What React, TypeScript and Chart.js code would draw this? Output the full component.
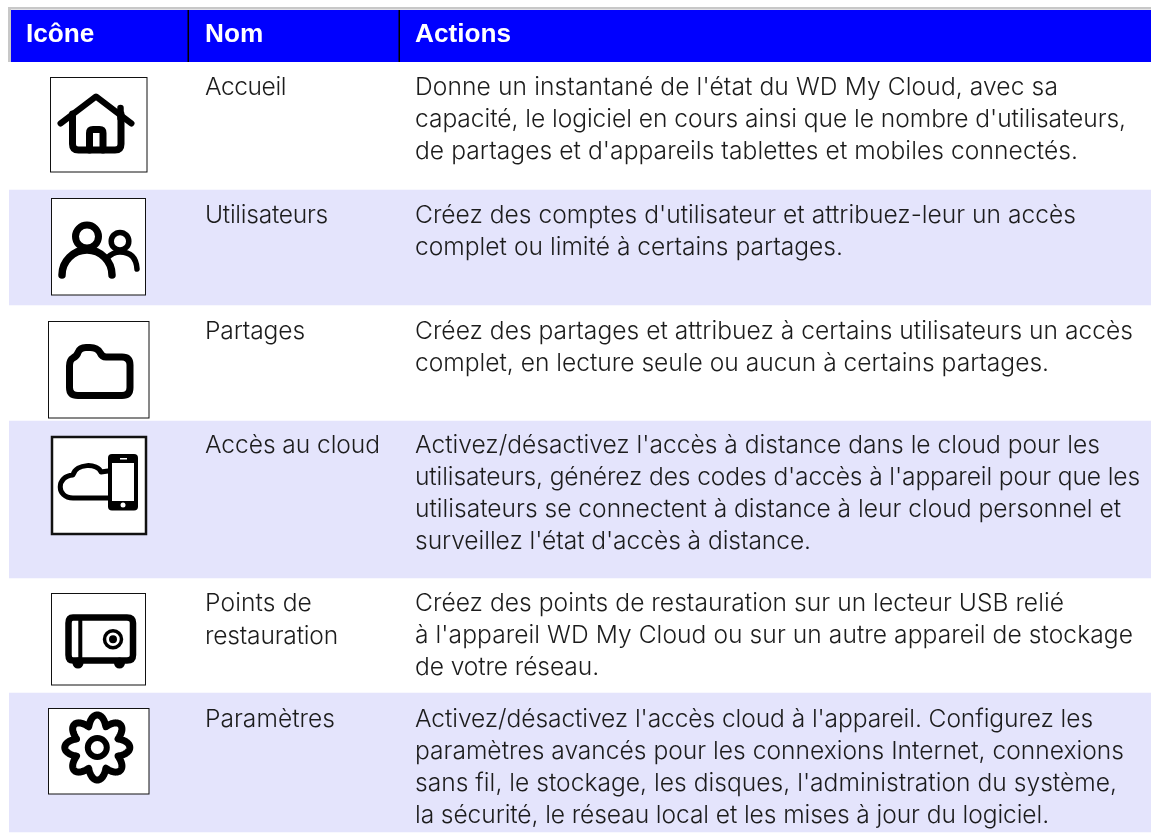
import React, { useEffect, useRef } from "react";
import { Chart, registerables } from "chart.js";
Chart.register(...registerables);

const W = 1151, H = 833;
const headers = ["Icône", "Nom", "Actions"];
const names = ["Accueil", "Utilisateurs", "Partages", "Accès au cloud", "Points de\nrestauration", "Paramètres"];
const nameEnds = [[286], [328], [305], [380], [312, 338], [335]];
const actions = [
  ["Donne un instantané de l'état du WD My Cloud, avec sa", "capacité, le logiciel en cours ainsi que le nombre d'utilisateurs,", "de partages et d'appareils tablettes et mobiles connectés."],
  ["Créez des comptes d'utilisateur et attribuez-leur un accès", "complet ou limité à certains partages."],
  ["Créez des partages et attribuez à certains utilisateurs un accès", "complet, en lecture seule ou aucun à certains partages."],
  ["Activez/désactivez l'accès à distance dans le cloud pour les", "utilisateurs, générez des codes d'accès à l'appareil pour que les", "utilisateurs se connectent à distance à leur cloud personnel et", "surveillez l'état d'accès à distance."],
  ["Créez des points de restauration sur un lecteur USB relié", "à l'appareil WD My Cloud ou sur un autre appareil de stockage", "de votre réseau."],
  ["Activez/désactivez l'accès cloud à l'appareil. Configurez les", "paramètres avancés pour les connexions Internet, connexions", "sans fil, le stockage, les disques, l'administration du système,", "la sécurité, le réseau local et les mises à jour du logiciel."],
];
const actionEnds = [[1058, 1126, 1078], [1076, 843], [1133, 1049], [1100, 1140, 1121, 811], [1064, 1133, 599], [1093, 1124, 1117, 1049]];
const rowBaselines = [95, 223, 339, 453, 611, 727];
const bandRanges = [[190, 305], [421, 578], [693, 832]];
const iconBoxes = [[50.5, 77.5, 96.5, 94.5, 1], [51.5, 198.5, 94, 96.5, 1], [48.5, 321.5, 100.5, 96.5, 1], [52, 437, 94, 97, 2.5], [51.5, 593.5, 94, 91.5, 1], [48.5, 708.5, 100.5, 85.5, 1]];

const P = (d: string) => new Path2D(d);

function gearPath(cx: number, cy: number) {
  const p = new Path2D();
  for (let i = 0; i <= 320; i++) {
    const a = (i / 320) * Math.PI * 2;
    const t = (1 + Math.cos(8 * a)) / 2;
    const r = 22.5 + 10 * Math.pow(t, 0.55);
    const x = cx + r * Math.cos(a + Math.PI / 2);
    const y = cy + r * Math.sin(a + Math.PI / 2);
    if (i === 0) p.moveTo(x, y);
    else p.lineTo(x, y);
  }
  p.closePath();
  return p;
}

function drawIcons(c: CanvasRenderingContext2D) {
  c.lineCap = "round";
  c.lineJoin = "round";
  c.strokeStyle = "#000";
  c.fillStyle = "#000";
  const s = (d: string | Path2D, w: number) => {
    c.lineWidth = w;
    c.stroke(typeof d === "string" ? P(d) : d);
  };
  // home
  s("M60.5 123.5 L96 96.5 L131.5 123.5", 6);
  s("M120.5 108 L120.5 118", 6.5);
  s("M72.5 114 L72.5 144 Q72.5 150 78.5 150 L115 150 Q121 150 121 144 L121 114", 7);
  s("M89.5 150 L89.5 133 Q89.5 129.5 93 129.5 L99.5 129.5 Q103 129.5 103 133 L103 150", 7);
  // users
  s("M87 248 A11.5 11.5 0 1 0 87 225 A11.5 11.5 0 1 0 87 248", 7);
  s("M62 275 A25 25 0 0 1 112 275", 7.5);
  s("M120 250 A8.8 8.8 0 1 0 120 232.4 A8.8 8.8 0 1 0 120 250", 5.5);
  s("M107 258 Q113 252 120 252 Q136 252 137 269", 5.5);
  // folder
  s("M78 395.5 L122 395.5 Q130 395.5 130 387.5 L130 365 Q130 357 122 357 L106 357 Q102 357 100 352.5 Q97 347.5 90 347.5 L86 347.5 Q80 347.5 78 352.5 Q77 356 73 358 Q69.5 360 69.5 366 L69.5 387.5 Q69.5 395.5 78 395.5 Z", 7);
  // cloud + phone
  s("M108 498 L73 498 C56 498 56 476 73 475 C76 463 98 463 101 472 L108 471", 5);
  c.beginPath();
  (c as any).roundRect(108, 454, 30, 56.5, 4);
  c.fill();
  c.fillStyle = "#fff";
  c.fillRect(112, 463, 22, 38);
  c.fillRect(120, 458, 7, 1.5);
  c.beginPath();
  c.arc(123, 505, 2.5, 0, Math.PI * 2);
  c.fill();
  c.fillStyle = "#000";
  // safe
  c.beginPath();
  c.arc(78, 663, 5.5, 0, Math.PI * 2);
  c.arc(119.5, 663, 5.5, 0, Math.PI * 2);
  c.fill();
  s("M73 617.5 L127 617.5 Q133 617.5 133 623 L133 655 Q133 660.5 127 660.5 L73 660.5 Q68.5 660.5 68.5 655 L68.5 623 Q68.5 617.5 73 617.5 Z", 6.5);
  c.fillRect(78.3, 618, 4, 42);
  c.beginPath();
  c.arc(113, 639.3, 8.5, 0, Math.PI * 2);
  c.lineWidth = 3.5;
  c.stroke();
  c.beginPath();
  c.arc(113, 639.3, 4, 0, Math.PI * 2);
  c.fill();
  // gear
  c.beginPath();
  c.arc(97.3, 747.5, 9.5, 0, Math.PI * 2);
  c.lineWidth = 6;
  c.stroke();
  s(gearPath(97.3, 747.5), 7);
}

const tablePlugin = {
  id: "table",
  afterDatasetsDraw(chart: any) {
    const c: CanvasRenderingContext2D = chart.ctx;
    const xs = chart.scales.px;
    const ys = chart.scales.y;
    const X = (v: number) => xs.getPixelForValue(v);
    const Y = (v: number) => ys.getPixelForValue(v);
    const fit = (t: string, x: number, end: number, y: number) => {
      (c as any).letterSpacing = "0px";
      const w = c.measureText(t).width;
      (c as any).letterSpacing = `${(end - x - w) / t.length}px`;
      c.fillText(t, X(x), Y(y));
      (c as any).letterSpacing = "0px";
    };
    c.save();
    c.resetTransform();
    c.fillStyle = "#c8c8c8";
    c.fillRect(X(8), Y(7), X(W) - X(8), 2.5);
    c.fillRect(X(8), Y(7), 3, 55);
    c.fillStyle = "#0000ff";
    c.fillRect(X(11), Y(10), X(W) - X(11), 52);
    c.fillStyle = "#000";
    c.fillRect(X(187.5), Y(10), 1.5, 52);
    c.fillRect(X(398.5), Y(10), 1.5, 52);
    c.textBaseline = "alphabetic";
    c.fillStyle = "#fff";
    c.font = `bold 26.2px "Liberation Sans"`;
    [26, 205, 415].forEach((x, i) => c.fillText(headers[i], X(x), Y(42)));
    c.fillStyle = "#1c1c1c";
    c.font = `300 24.6px Inter`;
    names.forEach((n, i) =>
      n.split("\n").forEach((t, j) => fit(t, 205, nameEnds[i][j], rowBaselines[i] + j * 33))
    );
    actions.forEach((lines, i) =>
      lines.forEach((t, j) => fit(t, 415, actionEnds[i][j], rowBaselines[i] + j * 32))
    );
    iconBoxes.forEach(([x, y, w, h, lw]) => {
      c.fillStyle = "#fff";
      c.fillRect(x, y, w, h);
      c.strokeStyle = "#111";
      c.lineWidth = lw;
      c.strokeRect(x, y, w, h);
    });
    drawIcons(c);
    c.restore();
  },
};

export default function App() {
  const ref = useRef<HTMLCanvasElement>(null);
  useEffect(() => {
    document.body.style.margin = "0";
    document.body.style.background = "#fff";
    const chart = new Chart(ref.current!, {
      type: "bar",
      data: {
        labels: ["table"],
        datasets: bandRanges.map((r) => ({
          data: [r as any],
          backgroundColor: "#e4e4fc",
          barPercentage: 1,
          categoryPercentage: 1,
          grouped: false,
        })),
      },
      options: {
        animation: false,
        responsive: false,
        layout: { padding: { left: 9, right: 0, top: 0, bottom: 0 } },
        plugins: { legend: { display: false }, tooltip: { enabled: false } },
        scales: {
          x: { display: false },
          px: { type: "linear", display: false, min: 9, max: W, position: "bottom", offset: false },
          y: { type: "linear", display: false, min: 0, max: H, reverse: true },
        },
      },
      plugins: [tablePlugin],
    } as any);
    return () => chart.destroy();
  }, []);
  return (
    <div style={{ width: W, height: H, overflow: "hidden" }}>
      <canvas ref={ref} width={W} height={H} style={{ display: "block" }} />
    </div>
  );
}
